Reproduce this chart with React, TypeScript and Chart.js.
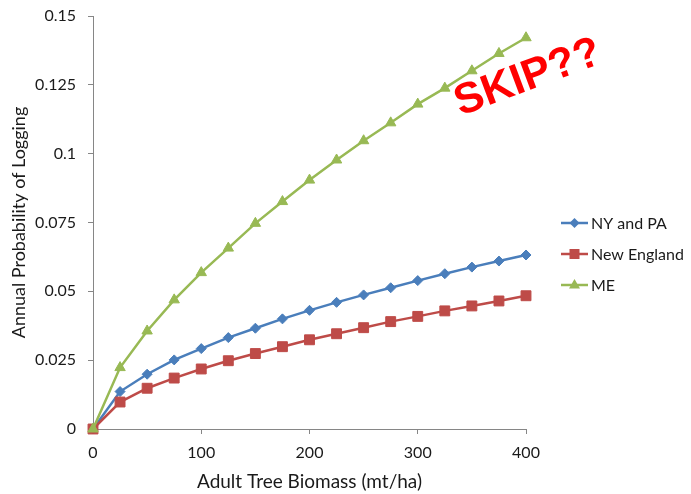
import React, { useEffect, useRef } from "react";
import { Chart, registerables } from "chart.js";

Chart.register(...registerables);

// Adult tree biomass (mt/ha)
const biomass = [0, 25, 50, 75, 100, 125, 150, 175, 200, 225, 250, 275, 300, 325, 350, 375, 400];

// Annual probability of logging by region
const nyPa = [0, 0.0136, 0.0199, 0.0251, 0.0292, 0.0332, 0.0366, 0.04, 0.0431, 0.046, 0.0487, 0.0513, 0.0539, 0.0564, 0.0588, 0.061, 0.0632];
const newEngland = [0, 0.0098, 0.0148, 0.0185, 0.0218, 0.0248, 0.0274, 0.0299, 0.0324, 0.0346, 0.0368, 0.039, 0.0409, 0.0429, 0.0447, 0.0465, 0.0484];
const maine = [0, 0.0223, 0.0356, 0.0469, 0.0568, 0.0657, 0.0747, 0.0826, 0.0904, 0.0977, 0.1047, 0.1112, 0.118, 0.1238, 0.1301, 0.1364, 0.1421];

const seriesNames = ["NY and PA", "New England", "ME"];
const seriesColors = ["#4A7EBB", "#BE4B48", "#98B954"];
const seriesMarkers = ["rectRot", "rect", "triangle"];
const markerRadius = [5, 7, 6];

const FONT = "Lato, 'Open Sans', sans-serif";
const TEXT = "#1a1a1a";
const AXIS = "#868686";

// Hand-drawn marker glyphs for the side legend
function drawMarker(ctx: CanvasRenderingContext2D, style: string, x: number, y: number) {
  ctx.beginPath();
  if (style === "rectRot") {
    ctx.moveTo(x - 5, y);
    ctx.lineTo(x, y - 5);
    ctx.lineTo(x + 5, y);
    ctx.lineTo(x, y + 5);
  } else if (style === "rect") {
    ctx.rect(x - 5, y - 5, 10, 10);
  } else {
    ctx.moveTo(x, y - 6);
    ctx.lineTo(x + 5.5, y + 3.5);
    ctx.lineTo(x - 5.5, y + 3.5);
  }
  ctx.closePath();
  ctx.fill();
}

const legendPlugin = {
  id: "sideLegend",
  afterDraw(chart: any) {
    const { ctx } = chart;
    const x0 = 561;
    const x1 = 588;
    const rows = [223, 254, 285];
    ctx.save();
    seriesNames.forEach((name, i) => {
      const y = rows[i];
      ctx.strokeStyle = seriesColors[i];
      ctx.lineWidth = 2.5;
      ctx.beginPath();
      ctx.moveTo(x0, y);
      ctx.lineTo(x1, y);
      ctx.stroke();
      ctx.fillStyle = seriesColors[i];
      drawMarker(ctx, seriesMarkers[i], (x0 + x1) / 2, y);
      ctx.fillStyle = TEXT;
      ctx.font = `16px ${FONT}`;
      ctx.textAlign = "left";
      ctx.textBaseline = "middle";
      ctx.fillText(name, 591, y + 1);
    });
    ctx.restore();
  },
};

const stampPlugin = {
  id: "stamp",
  afterDraw(chart: any) {
    const { ctx } = chart;
    ctx.save();
    ctx.translate(528, 78);
    ctx.rotate((-20.5 * Math.PI) / 180);
    ctx.fillStyle = "#FF0000";
    ctx.font = "bold 43px 'Liberation Sans', Arial, sans-serif";
    ctx.textAlign = "center";
    ctx.textBaseline = "middle";
    ctx.fillText("SKIP??", 0, 0);
    ctx.restore();
  },
};

export default function App() {
  const ref = useRef<HTMLCanvasElement | null>(null);

  useEffect(() => {
    if (!ref.current) return;
    const data = [nyPa, newEngland, maine];
    const chart = new Chart(ref.current, {
      type: "line",
      data: {
        datasets: data.map((vals, i) => ({
          label: seriesNames[i],
          data: biomass.map((x, j) => ({ x, y: vals[j] })),
          borderColor: seriesColors[i],
          backgroundColor: seriesColors[i],
          borderWidth: 2.5,
          pointStyle: seriesMarkers[i] as any,
          pointRadius: markerRadius[i],
          pointBorderWidth: 1,
          pointBorderColor: seriesColors[i],
          pointBackgroundColor: seriesColors[i],
          tension: 0,
          clip: false as any,
          order: 3 - i,
        })),
      },
      options: {
        animation: false,
        responsive: false,
        maintainAspectRatio: false,
        layout: { padding: { left: 0, right: 165, top: 16, bottom: 0 } },
        plugins: {
          legend: { display: false },
          tooltip: { enabled: false },
        },
        scales: {
          x: {
            type: "linear",
            min: 0,
            max: 400,
            ticks: {
              stepSize: 100,
              color: TEXT,
              font: { family: FONT, size: 16 },
              padding: 9,
              maxRotation: 0,
            },
            grid: { drawOnChartArea: false, drawTicks: true, tickLength: 5, color: AXIS },
            border: { color: AXIS, width: 1 },
            title: {
              display: true,
              text: "Adult Tree Biomass (mt/ha)",
              color: TEXT,
              font: { family: FONT, size: 19 },
              padding: { top: 0, bottom: 1 },
            },
            afterFit(scale: any) {
              scale.height = 65;
            },
          },
          y: {
            type: "linear",
            min: 0,
            max: 0.15,
            ticks: {
              stepSize: 0.025,
              color: TEXT,
              font: { family: FONT, size: 16 },
              padding: 12,
              callback: (v: any) => String(parseFloat(Number(v).toFixed(3))),
            },
            grid: { drawOnChartArea: false, drawTicks: true, tickLength: 5, color: AXIS },
            border: { color: AXIS, width: 1 },
            title: {
              display: true,
              text: "Annual Probability of Logging",
              color: TEXT,
              font: { family: FONT, size: 18 },
              padding: { top: 8, bottom: 0 },
            },
            afterFit(scale: any) {
              scale.width = 93;
              scale.paddingTop = 0;
              scale.paddingBottom = 0;
            },
          },
        },
      },
      plugins: [legendPlugin, stampPlugin],
    });
    return () => chart.destroy();
  }, []);

  return (
    <div style={{ position: "fixed", left: 0, top: 0, width: 691, height: 494, background: "#fff" }}>
      <canvas ref={ref} width={691} height={494} style={{ width: 691, height: 494 }} />
    </div>
  );
}
